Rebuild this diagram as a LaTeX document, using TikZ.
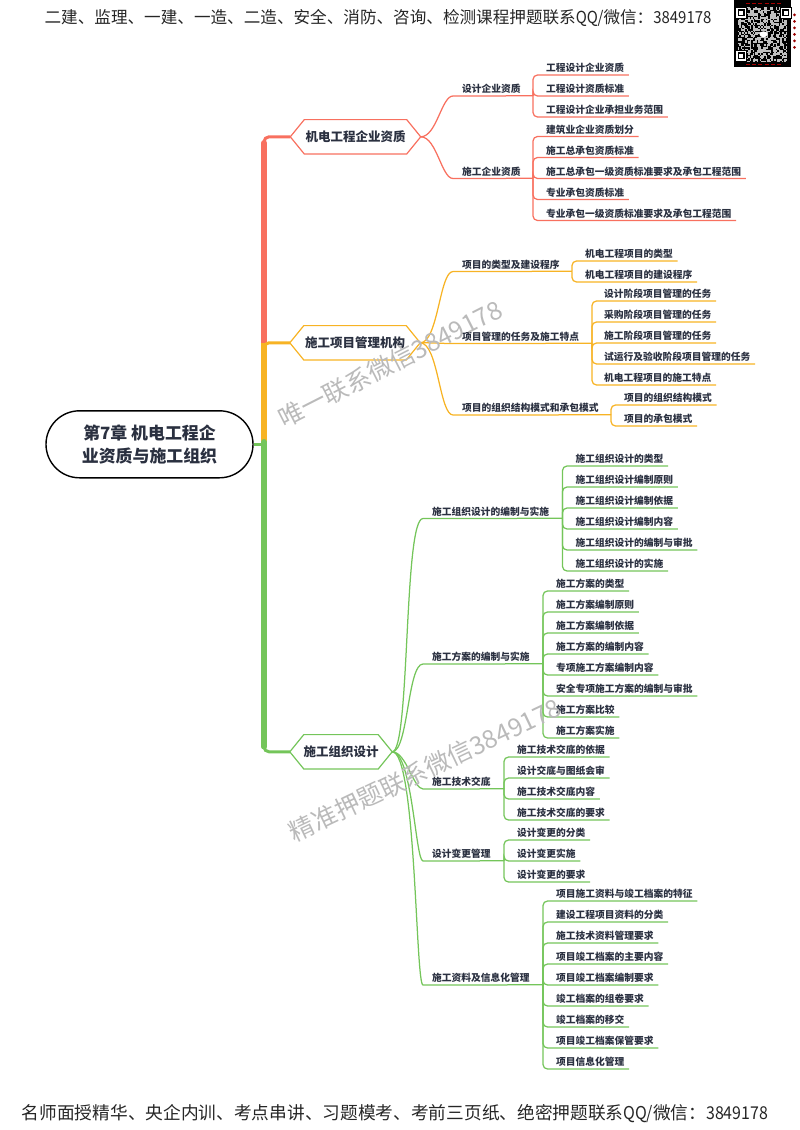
\documentclass[tikz,border=0pt]{standalone}
\usepackage{fontspec}
\setmainfont{Noto Sans CJK SC}
\newfontfamily\bannernum[FakeStretch=0.9]{Noto Sans CJK SC}
\usetikzlibrary{positioning,shapes.misc}
\definecolor{colred}{HTML}{F8705F}
\definecolor{colyel}{HTML}{F7B324}
\definecolor{colgrn}{HTML}{74C55A}
\definecolor{coltxt}{HTML}{2A3040}
\tikzset{
  rootnode/.style={rounded rectangle,draw=black,line width=1.4pt,fill=white,minimum width=207pt,minimum height=67pt,
    inner sep=0pt,align=center,text=coltxt,font=\bfseries\fontsize{16.9}{23}\selectfont},
  hexa/.style={minimum height=34pt,minimum width=#1,inner sep=0pt,text=coltxt,font=\bfseries\fontsize{12.5}{15}\selectfont},
  lab/.style={anchor=west,inner xsep=4.5pt,inner ysep=0pt,minimum height=14pt,text=coltxt,font=\bfseries\fontsize{9.75}{12}\selectfont},
  nx/.style={below=21pt of #1.west,anchor=west},
  lnr/.style={colred,line width=1.25pt,rounded corners=4.5pt},
  lny/.style={colyel,line width=1.25pt,rounded corners=4.5pt},
  lng/.style={colgrn,line width=1.25pt,rounded corners=4.5pt},
  wmark/.style={text=black!27,rotate=#1,font=\fontsize{25}{25}\selectfont},
  banner/.style={text=black!85,font=\fontsize{#1}{20}\selectfont}
}
\begin{document}
\begin{tikzpicture}[x=1pt,y=-1pt]
\useasboundingbox (0,-0.8) rectangle (800,1129.2);
\node[banner=16.6](top) at (378,17) {二建、监理、一建、一造、二造、安全、消防、咨询、检测课程押题联系{\bannernum QQ/}微信：{\bannernum 3849178}};
\node[banner=17.7](bottom) at (395,1113) {名师面授精华、央企内训、考点串讲、习题模考、考前三页纸、绝密押题联系{\bannernum QQ/}微信：{\bannernum 3849178}};

\fill[black] (733.5,-1) rectangle (790.5,66.5);
\pgfmathsetseed{11}
\foreach \i in {0,...,33}
  \foreach \j in {0,...,36}{
    \pgfmathrandominteger{\rr}{0}{1}
    \ifnum\rr=1 \fill[black!25] (738+1.45*\i,6+1.5*\j) rectangle +(1.45,1.5);\fi
  }
\foreach \p in {(736,7),(780.5,7),(736,50)}{
  \fill[black] \p ++(-1,-1) rectangle +(12,12);
  \fill[white] \p rectangle +(10,10);
  \fill[black] \p ++(1.5,1.5) rectangle +(7,7);
  \fill[white] \p ++(3,3) rectangle +(4,4);
}
\fill[white] (763.5,33.5) ellipse (4 and 3);
\foreach \i in {0,...,5}{
  \draw[red!65!black,line width=1pt] (746+6.2*\i,2.5) -- +(4,0);
  \draw[red!65!black,line width=1pt] (746+6.2*\i,63.5) -- +(4,0);
  \fill[red!60!black] (794.5,14+6.5*\i) circle (1.5);
}

\node[rootnode](root) at (149.5,443.5) {第7章 机电工程企\\业资质与施工组织};
\node[hexa=130pt](ha) at (355.5,136) {机电工程企业资质};
\node[hexa=130pt](hb) at (355,342) {施工项目管理机构};
\node[hexa=102pt](hc) at (341,751) {施工组织设计};
\foreach \n/\c in {ha/colred,hb/colyel,hc/colgrn}
  \draw[\c,line width=1.2pt] (\n.west) -- ([xshift=14pt]\n.north west) -- ([xshift=-14pt]\n.north east)
    -- (\n.east) -- ([xshift=-14pt]\n.south east) -- ([xshift=14pt]\n.south west) -- cycle;

\coordinate (tr) at (264,142);
\coordinate (ty) at (264,342);
\coordinate (tg) at (264,441);
\coordinate (te) at (264,746);
\draw[colred,line width=5.5pt,line cap=round] (ty) -- (tr);
\draw[colyel,line width=5.5pt] (tg) -- (ty);
\draw[colgrn,line width=5.5pt,line cap=round] (te) -- (tg);
\draw[lnr,line width=3pt,rounded corners=5pt] (tr) |- (ha.west);
\draw[lny,line width=3pt,rounded corners=5pt] (264,350) |- (hb.west);
\draw[lng,line width=3pt,rounded corners=5pt] (te) |- (hc.west);
\draw[colgrn,line width=3pt] (root.east) -- (tg |- root.east);

\node[lab](d1) at (457.5,88) {设计企业资质};
\node[lab](d2) at (457.5,170.5) {施工企业资质};
\node[lab](a1) at (541.5,67) {工程设计企业资质};
\node[lab,nx=a1](a2) {工程设计资质标准};
\node[lab,nx=a2](a3) {工程设计企业承担业务范围};
\node[lab](b1) at (541.5,128.5) {建筑业企业资质划分};
\node[lab,nx=b1](b2) {施工总承包资质标准};
\node[lab,nx=b2](b3) {施工总承包一级资质标准要求及承包工程范围};
\node[lab,nx=b3](b4) {专业承包资质标准};
\node[lab,nx=b4](b5) {专业承包一级资质标准要求及承包工程范围};
\coordinate (d1b) at (533,95);
\coordinate (d2b) at (533,177.5);
\foreach \n in {d1,d2}
  \draw[lnr] (ha.east) .. controls +(16,0) and +(-16,0) .. (\n.south west) -- (\n b);
\foreach \n in {a1,a2,a3} \draw[lnr] (d1b) |- (\n.south east);
\foreach \n in {b1,b2,b3,b4,b5} \draw[lnr] (d2b) |- (\n.south east);

\node[lab](e1) at (457.5,263.5) {项目的类型及建设程序};
\node[lab](e2) at (457.5,335.5) {项目管理的任务及施工特点};
\node[lab](e3) at (457.5,407) {项目的组织结构模式和承包模式};
\node[lab](f1) at (580.5,253) {机电工程项目的类型};
\node[lab,nx=f1](f2) {机电工程项目的建设程序};
\node[lab](g1) at (599.5,293) {设计阶段项目管理的任务};
\node[lab,nx=g1](g2) {采购阶段项目管理的任务};
\node[lab,nx=g2](g3) {施工阶段项目管理的任务};
\node[lab,nx=g3](g4) {试运行及验收阶段项目管理的任务};
\node[lab,nx=g4](g5) {机电工程项目的施工特点};
\node[lab](k1) at (619.5,397) {项目的组织结构模式};
\node[lab,nx=k1](k2) {项目的承包模式};
\coordinate (e1b) at (572,270.5);
\coordinate (e2b) at (592,342.5);
\coordinate (e3b) at (611,414);
\foreach \n in {e1,e2,e3}
  \draw[lny] (hb.east) .. controls +(18,0) and +(-18,0) .. (\n.south west) -- (\n b);
\foreach \n in {f1,f2} \draw[lny] (e1b) |- (\n.south east);
\foreach \n in {g1,g2,g3,g4,g5} \draw[lny] (e2b) |- (\n.south east);
\foreach \n in {k1,k2} \draw[lny] (e3b) |- (\n.south east);

\node[lab](m1) at (427.5,510.5) {施工组织设计的编制与实施};
\node[lab](m2) at (427.5,656) {施工方案的编制与实施};
\node[lab](m3) at (427.5,781) {施工技术交底};
\node[lab](m4) at (427.5,853) {设计变更管理};
\node[lab](m5) at (427.5,977) {施工资料及信息化管理};
\node[lab](n1) at (571,458) {施工组织设计的类型};
\node[lab,nx=n1](n2) {施工组织设计编制原则};
\node[lab,nx=n2](n3) {施工组织设计编制依据};
\node[lab,nx=n3](n4) {施工组织设计编制内容};
\node[lab,nx=n4](n5) {施工组织设计的编制与审批};
\node[lab,nx=n5](n6) {施工组织设计的实施};
\node[lab](p1) at (551.5,583) {施工方案的类型};
\node[lab,nx=p1](p2) {施工方案编制原则};
\node[lab,nx=p2](p3) {施工方案编制依据};
\node[lab,nx=p3](p4) {施工方案的编制内容};
\node[lab,nx=p4](p5) {专项施工方案编制内容};
\node[lab,nx=p5](p6) {安全专项施工方案的编制与审批};
\node[lab,nx=p6](p7) {施工方案比较};
\node[lab,nx=p7](p8) {施工方案实施};
\node[lab](q1) at (512.5,749) {施工技术交底的依据};
\node[lab,nx=q1](q2) {设计交底与图纸会审};
\node[lab,nx=q2](q3) {施工技术交底内容};
\node[lab,nx=q3](q4) {施工技术交底的要求};
\node[lab](r1) at (512.5,832) {设计变更的分类};
\node[lab,nx=r1](r2) {设计变更实施};
\node[lab,nx=r2](r3) {设计变更的要求};
\node[lab](s1) at (551.5,893) {项目施工资料与竣工档案的特征};
\node[lab,nx=s1](s2) {建设工程项目资料的分类};
\node[lab,nx=s2](s3) {施工技术资料管理要求};
\node[lab,nx=s3](s4) {项目竣工档案的主要内容};
\node[lab,nx=s4](s5) {项目竣工档案编制要求};
\node[lab,nx=s5](s6) {竣工档案的组卷要求};
\node[lab,nx=s6](s7) {竣工档案的移交};
\node[lab,nx=s7](s8) {项目竣工档案保管要求};
\node[lab,nx=s8](s9) {项目信息化管理};
\coordinate (m1b) at (562.5,517.5);
\coordinate (m2b) at (543,663);
\coordinate (m3b) at (504,788);
\coordinate (m4b) at (504,860);
\coordinate (m5b) at (543,984);
\draw[lng] (hc.east) .. controls +(18,0) and +(-24,0) .. (m1.south west) -- (m1b);
\draw[lng] (hc.east) .. controls +(16,0) and +(-20,0) .. (m2.south west) -- (m2b);
\draw[lng] (hc.east) .. controls +(14,0) and +(-14,0) .. (m3.south west) -- (m3b);
\draw[lng] (hc.east) .. controls +(20,0) and +(-12,0) .. (m4.south west) -- (m4b);
\draw[lng] (hc.east) .. controls +(24,0) and +(-12,0) .. (m5.south west) -- (m5b);
\foreach \n in {n1,n2,n3,n4,n5,n6} \draw[lng] (m1b) |- (\n.south east);
\foreach \n in {p1,p2,p3,p4,p5,p6,p7,p8} \draw[lng] (m2b) |- (\n.south east);
\foreach \n in {q1,q2,q3,q4} \draw[lng] (m3b) |- (\n.south east);
\foreach \n in {r1,r2,r3} \draw[lng] (m4b) |- (\n.south east);
\foreach \n in {s1,s2,s3,s4,s5,s6,s7,s8,s9} \draw[lng] (m5b) |- (\n.south east);

\node[wmark=27](w1) at (390,363) {唯一联系微信3849178};
\node[wmark=25.5](w2) at (425,769) {精准押题联系微信3849178};
\end{tikzpicture}
\end{document}
